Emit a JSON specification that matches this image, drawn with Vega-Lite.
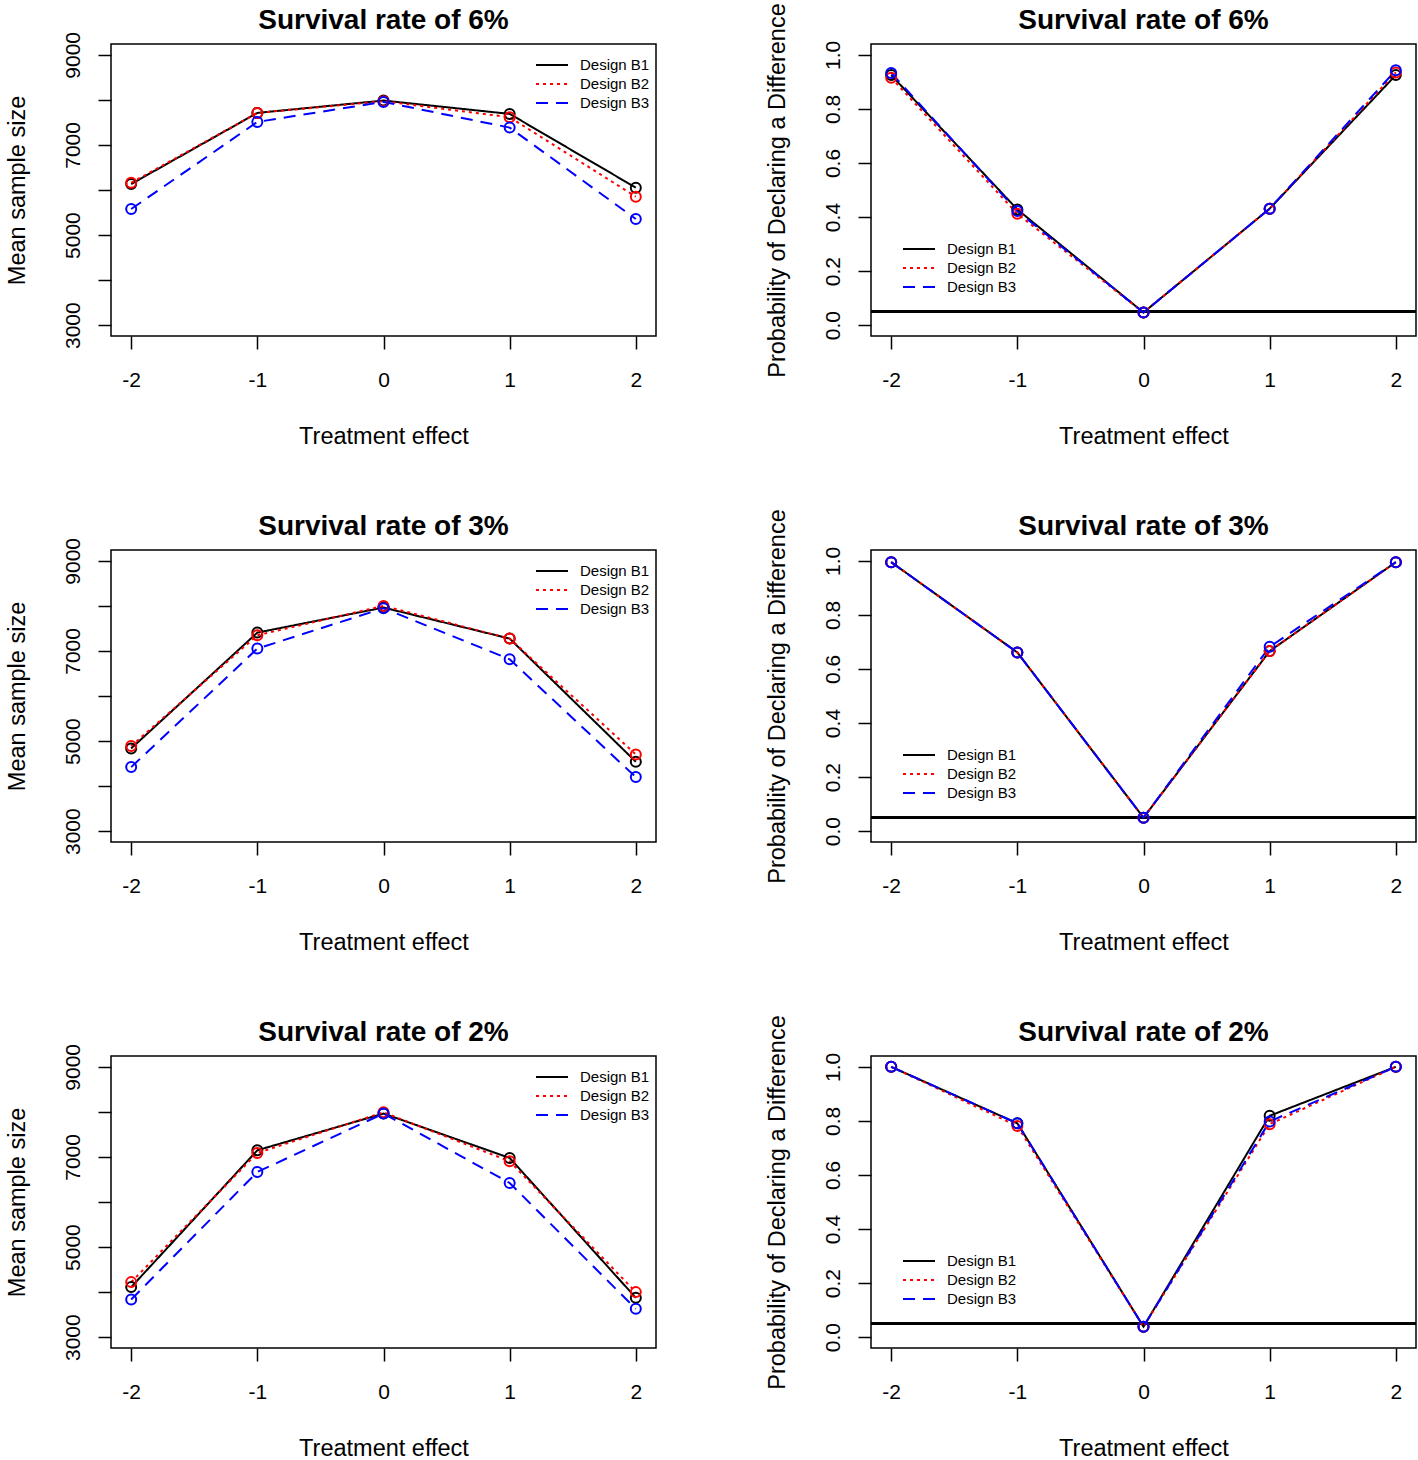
{
  "$schema": "https://vega.github.io/schema/vega-lite/v6.json",
  "padding": {"left": 4, "top": 2, "right": 0, "bottom": 0},
  "background": "white",
  "data": {"values": [
    {"rate":"6%","kind":"ss","design":"Design B1","effect":-2,"value":6133},
    {"rate":"6%","kind":"ss","design":"Design B1","effect":-1,"value":7711},
    {"rate":"6%","kind":"ss","design":"Design B1","effect":0,"value":7985},
    {"rate":"6%","kind":"ss","design":"Design B1","effect":1,"value":7689},
    {"rate":"6%","kind":"ss","design":"Design B1","effect":2,"value":6052},
    {"rate":"6%","kind":"ss","design":"Design B2","effect":-2,"value":6160},
    {"rate":"6%","kind":"ss","design":"Design B2","effect":-1,"value":7711},
    {"rate":"6%","kind":"ss","design":"Design B2","effect":0,"value":7970},
    {"rate":"6%","kind":"ss","design":"Design B2","effect":1,"value":7615},
    {"rate":"6%","kind":"ss","design":"Design B2","effect":2,"value":5852},
    {"rate":"6%","kind":"ss","design":"Design B3","effect":-2,"value":5578},
    {"rate":"6%","kind":"ss","design":"Design B3","effect":-1,"value":7511},
    {"rate":"6%","kind":"ss","design":"Design B3","effect":0,"value":7955},
    {"rate":"6%","kind":"ss","design":"Design B3","effect":1,"value":7385},
    {"rate":"6%","kind":"ss","design":"Design B3","effect":2,"value":5356},
    {"rate":"3%","kind":"ss","design":"Design B1","effect":-2,"value":4837},
    {"rate":"3%","kind":"ss","design":"Design B1","effect":-1,"value":7407},
    {"rate":"3%","kind":"ss","design":"Design B1","effect":0,"value":7963},
    {"rate":"3%","kind":"ss","design":"Design B1","effect":1,"value":7274},
    {"rate":"3%","kind":"ss","design":"Design B1","effect":2,"value":4541},
    {"rate":"3%","kind":"ss","design":"Design B2","effect":-2,"value":4889},
    {"rate":"3%","kind":"ss","design":"Design B2","effect":-1,"value":7348},
    {"rate":"3%","kind":"ss","design":"Design B2","effect":0,"value":8000},
    {"rate":"3%","kind":"ss","design":"Design B2","effect":1,"value":7274},
    {"rate":"3%","kind":"ss","design":"Design B2","effect":2,"value":4704},
    {"rate":"3%","kind":"ss","design":"Design B3","effect":-2,"value":4422},
    {"rate":"3%","kind":"ss","design":"Design B3","effect":-1,"value":7052},
    {"rate":"3%","kind":"ss","design":"Design B3","effect":0,"value":7948},
    {"rate":"3%","kind":"ss","design":"Design B3","effect":1,"value":6815},
    {"rate":"3%","kind":"ss","design":"Design B3","effect":2,"value":4200},
    {"rate":"2%","kind":"ss","design":"Design B1","effect":-2,"value":4111},
    {"rate":"2%","kind":"ss","design":"Design B1","effect":-1,"value":7148},
    {"rate":"2%","kind":"ss","design":"Design B1","effect":0,"value":7963},
    {"rate":"2%","kind":"ss","design":"Design B1","effect":1,"value":6978},
    {"rate":"2%","kind":"ss","design":"Design B1","effect":2,"value":3874},
    {"rate":"2%","kind":"ss","design":"Design B2","effect":-2,"value":4222},
    {"rate":"2%","kind":"ss","design":"Design B2","effect":-1,"value":7089},
    {"rate":"2%","kind":"ss","design":"Design B2","effect":0,"value":7990},
    {"rate":"2%","kind":"ss","design":"Design B2","effect":1,"value":6904},
    {"rate":"2%","kind":"ss","design":"Design B2","effect":2,"value":4000},
    {"rate":"2%","kind":"ss","design":"Design B3","effect":-2,"value":3837},
    {"rate":"2%","kind":"ss","design":"Design B3","effect":-1,"value":6667},
    {"rate":"2%","kind":"ss","design":"Design B3","effect":0,"value":7963},
    {"rate":"2%","kind":"ss","design":"Design B3","effect":1,"value":6422},
    {"rate":"2%","kind":"ss","design":"Design B3","effect":2,"value":3630},
    {"rate":"6%","kind":"pr","design":"Design B1","effect":-2,"value":0.925},
    {"rate":"6%","kind":"pr","design":"Design B1","effect":-1,"value":0.428},
    {"rate":"6%","kind":"pr","design":"Design B1","effect":0,"value":0.047},
    {"rate":"6%","kind":"pr","design":"Design B1","effect":1,"value":0.431},
    {"rate":"6%","kind":"pr","design":"Design B1","effect":2,"value":0.925},
    {"rate":"6%","kind":"pr","design":"Design B2","effect":-2,"value":0.915},
    {"rate":"6%","kind":"pr","design":"Design B2","effect":-1,"value":0.412},
    {"rate":"6%","kind":"pr","design":"Design B2","effect":0,"value":0.047},
    {"rate":"6%","kind":"pr","design":"Design B2","effect":1,"value":0.431},
    {"rate":"6%","kind":"pr","design":"Design B2","effect":2,"value":0.935},
    {"rate":"6%","kind":"pr","design":"Design B3","effect":-2,"value":0.933},
    {"rate":"6%","kind":"pr","design":"Design B3","effect":-1,"value":0.422},
    {"rate":"6%","kind":"pr","design":"Design B3","effect":0,"value":0.047},
    {"rate":"6%","kind":"pr","design":"Design B3","effect":1,"value":0.431},
    {"rate":"6%","kind":"pr","design":"Design B3","effect":2,"value":0.943},
    {"rate":"3%","kind":"pr","design":"Design B1","effect":-2,"value":0.995},
    {"rate":"3%","kind":"pr","design":"Design B1","effect":-1,"value":0.661},
    {"rate":"3%","kind":"pr","design":"Design B1","effect":0,"value":0.05},
    {"rate":"3%","kind":"pr","design":"Design B1","effect":1,"value":0.666},
    {"rate":"3%","kind":"pr","design":"Design B1","effect":2,"value":0.995},
    {"rate":"3%","kind":"pr","design":"Design B2","effect":-2,"value":0.995},
    {"rate":"3%","kind":"pr","design":"Design B2","effect":-1,"value":0.661},
    {"rate":"3%","kind":"pr","design":"Design B2","effect":0,"value":0.05},
    {"rate":"3%","kind":"pr","design":"Design B2","effect":1,"value":0.666},
    {"rate":"3%","kind":"pr","design":"Design B2","effect":2,"value":0.995},
    {"rate":"3%","kind":"pr","design":"Design B3","effect":-2,"value":0.995},
    {"rate":"3%","kind":"pr","design":"Design B3","effect":-1,"value":0.661},
    {"rate":"3%","kind":"pr","design":"Design B3","effect":0,"value":0.05},
    {"rate":"3%","kind":"pr","design":"Design B3","effect":1,"value":0.682},
    {"rate":"3%","kind":"pr","design":"Design B3","effect":2,"value":0.995},
    {"rate":"2%","kind":"pr","design":"Design B1","effect":-2,"value":1.0},
    {"rate":"2%","kind":"pr","design":"Design B1","effect":-1,"value":0.791},
    {"rate":"2%","kind":"pr","design":"Design B1","effect":0,"value":0.039},
    {"rate":"2%","kind":"pr","design":"Design B1","effect":1,"value":0.819},
    {"rate":"2%","kind":"pr","design":"Design B1","effect":2,"value":1.0},
    {"rate":"2%","kind":"pr","design":"Design B2","effect":-2,"value":1.0},
    {"rate":"2%","kind":"pr","design":"Design B2","effect":-1,"value":0.781},
    {"rate":"2%","kind":"pr","design":"Design B2","effect":0,"value":0.039},
    {"rate":"2%","kind":"pr","design":"Design B2","effect":1,"value":0.788},
    {"rate":"2%","kind":"pr","design":"Design B2","effect":2,"value":1.0},
    {"rate":"2%","kind":"pr","design":"Design B3","effect":-2,"value":1.0},
    {"rate":"2%","kind":"pr","design":"Design B3","effect":-1,"value":0.791},
    {"rate":"2%","kind":"pr","design":"Design B3","effect":0,"value":0.039},
    {"rate":"2%","kind":"pr","design":"Design B3","effect":1,"value":0.798},
    {"rate":"2%","kind":"pr","design":"Design B3","effect":2,"value":1.0}
  ]},
  "columns": 2,
  "spacing": {"row": 214, "column": 215},
  "bounds": "flush",
  "resolve": {
    "scale": {"x": "independent", "y": "independent", "color": "independent", "strokeDash": "independent"},
    "legend": {"color": "independent", "strokeDash": "independent"}
  },
  "concat": [
    {
      "title": {"text": "Survival rate of 6%", "offset": -4},
      "width": 545, "height": 292,
      "transform": [{"filter": "datum.kind == 'ss' && datum.rate == '6%'"}],
      "layer": [
        {"mark": {"type": "line", "strokeWidth": 2},
         "encoding": {
           "x": {"field": "effect", "type": "quantitative", "scale": {"domain": [-2.16, 2.16], "nice": false, "zero": false}, "axis": {"values": [-2,-1,0,1,2], "labelExpr": "'' + datum.value", "title": "Treatment effect"}},
           "y": {"field": "value", "type": "quantitative", "scale": {"domain": [2760, 9240], "nice": false, "zero": false}, "axis": {"values": [3000,4000,5000,6000,7000,8000,9000], "labelExpr": "datum.value % 2000 == 1000 ? '' + datum.value : ''", "title": "Mean sample size"}},
           "color": {"field": "design", "type": "nominal", "scale": {"domain": ["Design B1","Design B2","Design B3"], "range": ["#000000","#ff0000","#0000ff"]}, "legend": {"title": null, "orient": "none", "legendX": 432, "legendY": 12}},
           "strokeDash": {"field": "design", "type": "nominal", "scale": {"domain": ["Design B1","Design B2","Design B3"], "range": [[1,0],[3,4],[12,8]]}, "legend": {"title": null, "orient": "none", "legendX": 432, "legendY": 12}}
         }},
        {"mark": {"type": "point", "shape": "circle", "filled": false, "size": 100, "strokeWidth": 2, "opacity": 1},
         "encoding": {
           "x": {"field": "effect", "type": "quantitative"},
           "y": {"field": "value", "type": "quantitative"},
           "color": {"field": "design", "type": "nominal", "legend": null}
         }}
      ]
    },
    {
      "title": {"text": "Survival rate of 6%", "offset": -32},
      "width": 545, "height": 292,
      "transform": [{"filter": "datum.kind == 'pr' && datum.rate == '6%'"}],
      "layer": [
        {"mark": {"type": "rule", "strokeWidth": 2, "color": "black"},
         "encoding": {"y": {"datum": 0.05, "type": "quantitative", "scale": {"domain": [-0.04, 1.04], "nice": false, "zero": false}, "axis": {"values": [0,0.2,0.4,0.6,0.8,1.0], "format": ".1f", "title": "Probability of Declaring a Difference"}}}},
        {"mark": {"type": "line", "strokeWidth": 2},
         "encoding": {
           "x": {"field": "effect", "type": "quantitative", "scale": {"domain": [-2.16, 2.16], "nice": false, "zero": false}, "axis": {"values": [-2,-1,0,1,2], "labelExpr": "'' + datum.value", "title": "Treatment effect"}},
           "y": {"field": "value", "type": "quantitative"},
           "color": {"field": "design", "type": "nominal", "scale": {"domain": ["Design B1","Design B2","Design B3"], "range": ["#000000","#ff0000","#0000ff"]}, "legend": {"title": null, "orient": "none", "legendX": 39, "legendY": 196}},
           "strokeDash": {"field": "design", "type": "nominal", "scale": {"domain": ["Design B1","Design B2","Design B3"], "range": [[1,0],[3,4],[12,8]]}, "legend": {"title": null, "orient": "none", "legendX": 39, "legendY": 196}}
         }},
        {"mark": {"type": "point", "shape": "circle", "filled": false, "size": 100, "strokeWidth": 2, "opacity": 1},
         "encoding": {
           "x": {"field": "effect", "type": "quantitative"},
           "y": {"field": "value", "type": "quantitative"},
           "color": {"field": "design", "type": "nominal", "legend": null}
         }}
      ]
    },
    {
      "title": {"text": "Survival rate of 3%", "offset": -4},
      "width": 545, "height": 292,
      "transform": [{"filter": "datum.kind == 'ss' && datum.rate == '3%'"}],
      "layer": [
        {"mark": {"type": "line", "strokeWidth": 2},
         "encoding": {
           "x": {"field": "effect", "type": "quantitative", "scale": {"domain": [-2.16, 2.16], "nice": false, "zero": false}, "axis": {"values": [-2,-1,0,1,2], "labelExpr": "'' + datum.value", "title": "Treatment effect"}},
           "y": {"field": "value", "type": "quantitative", "scale": {"domain": [2760, 9240], "nice": false, "zero": false}, "axis": {"values": [3000,4000,5000,6000,7000,8000,9000], "labelExpr": "datum.value % 2000 == 1000 ? '' + datum.value : ''", "title": "Mean sample size"}},
           "color": {"field": "design", "type": "nominal", "scale": {"domain": ["Design B1","Design B2","Design B3"], "range": ["#000000","#ff0000","#0000ff"]}, "legend": {"title": null, "orient": "none", "legendX": 432, "legendY": 12}},
           "strokeDash": {"field": "design", "type": "nominal", "scale": {"domain": ["Design B1","Design B2","Design B3"], "range": [[1,0],[3,4],[12,8]]}, "legend": {"title": null, "orient": "none", "legendX": 432, "legendY": 12}}
         }},
        {"mark": {"type": "point", "shape": "circle", "filled": false, "size": 100, "strokeWidth": 2, "opacity": 1},
         "encoding": {
           "x": {"field": "effect", "type": "quantitative"},
           "y": {"field": "value", "type": "quantitative"},
           "color": {"field": "design", "type": "nominal", "legend": null}
         }}
      ]
    },
    {
      "title": {"text": "Survival rate of 3%", "offset": -32},
      "width": 545, "height": 292,
      "transform": [{"filter": "datum.kind == 'pr' && datum.rate == '3%'"}],
      "layer": [
        {"mark": {"type": "rule", "strokeWidth": 2, "color": "black"},
         "encoding": {"y": {"datum": 0.05, "type": "quantitative", "scale": {"domain": [-0.04, 1.04], "nice": false, "zero": false}, "axis": {"values": [0,0.2,0.4,0.6,0.8,1.0], "format": ".1f", "title": "Probability of Declaring a Difference"}}}},
        {"mark": {"type": "line", "strokeWidth": 2},
         "encoding": {
           "x": {"field": "effect", "type": "quantitative", "scale": {"domain": [-2.16, 2.16], "nice": false, "zero": false}, "axis": {"values": [-2,-1,0,1,2], "labelExpr": "'' + datum.value", "title": "Treatment effect"}},
           "y": {"field": "value", "type": "quantitative"},
           "color": {"field": "design", "type": "nominal", "scale": {"domain": ["Design B1","Design B2","Design B3"], "range": ["#000000","#ff0000","#0000ff"]}, "legend": {"title": null, "orient": "none", "legendX": 39, "legendY": 196}},
           "strokeDash": {"field": "design", "type": "nominal", "scale": {"domain": ["Design B1","Design B2","Design B3"], "range": [[1,0],[3,4],[12,8]]}, "legend": {"title": null, "orient": "none", "legendX": 39, "legendY": 196}}
         }},
        {"mark": {"type": "point", "shape": "circle", "filled": false, "size": 100, "strokeWidth": 2, "opacity": 1},
         "encoding": {
           "x": {"field": "effect", "type": "quantitative"},
           "y": {"field": "value", "type": "quantitative"},
           "color": {"field": "design", "type": "nominal", "legend": null}
         }}
      ]
    },
    {
      "title": {"text": "Survival rate of 2%", "offset": -4},
      "width": 545, "height": 292,
      "transform": [{"filter": "datum.kind == 'ss' && datum.rate == '2%'"}],
      "layer": [
        {"mark": {"type": "line", "strokeWidth": 2},
         "encoding": {
           "x": {"field": "effect", "type": "quantitative", "scale": {"domain": [-2.16, 2.16], "nice": false, "zero": false}, "axis": {"values": [-2,-1,0,1,2], "labelExpr": "'' + datum.value", "title": "Treatment effect"}},
           "y": {"field": "value", "type": "quantitative", "scale": {"domain": [2760, 9240], "nice": false, "zero": false}, "axis": {"values": [3000,4000,5000,6000,7000,8000,9000], "labelExpr": "datum.value % 2000 == 1000 ? '' + datum.value : ''", "title": "Mean sample size"}},
           "color": {"field": "design", "type": "nominal", "scale": {"domain": ["Design B1","Design B2","Design B3"], "range": ["#000000","#ff0000","#0000ff"]}, "legend": {"title": null, "orient": "none", "legendX": 432, "legendY": 12}},
           "strokeDash": {"field": "design", "type": "nominal", "scale": {"domain": ["Design B1","Design B2","Design B3"], "range": [[1,0],[3,4],[12,8]]}, "legend": {"title": null, "orient": "none", "legendX": 432, "legendY": 12}}
         }},
        {"mark": {"type": "point", "shape": "circle", "filled": false, "size": 100, "strokeWidth": 2, "opacity": 1},
         "encoding": {
           "x": {"field": "effect", "type": "quantitative"},
           "y": {"field": "value", "type": "quantitative"},
           "color": {"field": "design", "type": "nominal", "legend": null}
         }}
      ]
    },
    {
      "title": {"text": "Survival rate of 2%", "offset": -32},
      "width": 545, "height": 292,
      "transform": [{"filter": "datum.kind == 'pr' && datum.rate == '2%'"}],
      "layer": [
        {"mark": {"type": "rule", "strokeWidth": 2, "color": "black"},
         "encoding": {"y": {"datum": 0.05, "type": "quantitative", "scale": {"domain": [-0.04, 1.04], "nice": false, "zero": false}, "axis": {"values": [0,0.2,0.4,0.6,0.8,1.0], "format": ".1f", "title": "Probability of Declaring a Difference"}}}},
        {"mark": {"type": "line", "strokeWidth": 2},
         "encoding": {
           "x": {"field": "effect", "type": "quantitative", "scale": {"domain": [-2.16, 2.16], "nice": false, "zero": false}, "axis": {"values": [-2,-1,0,1,2], "labelExpr": "'' + datum.value", "title": "Treatment effect"}},
           "y": {"field": "value", "type": "quantitative"},
           "color": {"field": "design", "type": "nominal", "scale": {"domain": ["Design B1","Design B2","Design B3"], "range": ["#000000","#ff0000","#0000ff"]}, "legend": {"title": null, "orient": "none", "legendX": 39, "legendY": 196}},
           "strokeDash": {"field": "design", "type": "nominal", "scale": {"domain": ["Design B1","Design B2","Design B3"], "range": [[1,0],[3,4],[12,8]]}, "legend": {"title": null, "orient": "none", "legendX": 39, "legendY": 196}}
         }},
        {"mark": {"type": "point", "shape": "circle", "filled": false, "size": 100, "strokeWidth": 2, "opacity": 1},
         "encoding": {
           "x": {"field": "effect", "type": "quantitative"},
           "y": {"field": "value", "type": "quantitative"},
           "color": {"field": "design", "type": "nominal", "legend": null}
         }}
      ]
    }
  ],
  "config": {
    "font": "Liberation Sans",
    "view": {"stroke": "black", "strokeWidth": 1.5},
    "axis": {"domain": false, "grid": false, "ticks": true, "tickColor": "black", "tickSize": 13, "tickWidth": 1.5, "labelFont": "Liberation Sans", "labelFontSize": 21, "labelColor": "black", "titleFont": "Liberation Sans", "titleFontSize": 23.5, "titleFontWeight": "normal", "titleColor": "black", "labelOverlap": false, "labelFlush": false},
    "axisX": {"labelPadding": 20, "titlePadding": 34.5, "labelAngle": 0},
    "axisY": {"labelAngle": -90, "labelAlign": "center", "labelBaseline": "bottom", "labelPadding": 15, "titlePadding": 33},
    "title": {"font": "Liberation Sans", "fontSize": 28, "fontWeight": "bold", "color": "black", "anchor": "middle"},
    "legend": {"labelFont": "Liberation Sans", "labelFontSize": 15, "labelColor": "black", "symbolType": "M-2,0H2", "symbolSize": 256, "symbolStrokeWidth": 2, "labelOffset": 19, "rowPadding": 2, "padding": 0}
  }
}
